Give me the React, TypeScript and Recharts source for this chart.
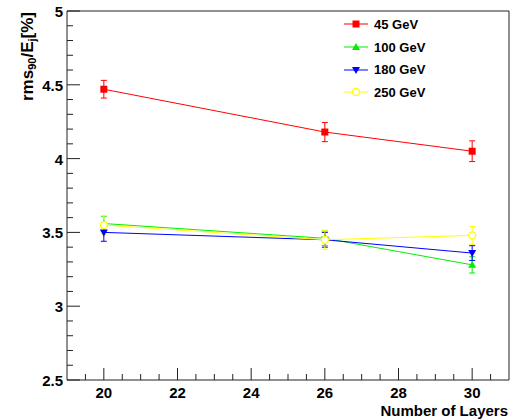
import React from 'react'
import { ComposedChart, Line, XAxis, YAxis, ErrorBar, ReferenceLine } from 'recharts'

// number of layers in the calorimeter
const layers = [20, 26, 30]

// jet energy resolution rms90/Ej [%] and its uncertainty, per jet energy
const res45 = [4.47, 4.18, 4.05]
const err45 = [0.06, 0.065, 0.07]
const res100 = [3.56, 3.46, 3.28]
const err100 = [0.05, 0.05, 0.055]
const res180 = [3.5, 3.45, 3.36]
const err180 = [0.06, 0.05, 0.05]
const res250 = [3.55, 3.45, 3.48]
const err250 = [0.065, 0.065, 0.06]

const xMajor = [20, 22, 24, 26, 28, 30]
const xMinor = [19.5, 20.5, 21, 21.5, 22.5, 23, 23.5, 24.5, 25, 25.5, 26.5, 27, 27.5, 28.5, 29, 29.5, 30.5]
const yMajor = [2.5, 3, 3.5, 4, 4.5, 5]
const yMinor = [
  2.6, 2.7, 2.8, 2.9, 3.1, 3.2, 3.3, 3.4, 3.6, 3.7, 3.8, 3.9, 4.1, 4.2, 4.3, 4.4, 4.6, 4.7, 4.8, 4.9,
]

const FONT = '"Liberation Sans", Arial, sans-serif'

const series = [
  { key: 'e45', name: '45 GeV', color: '#ff0000', shape: 'square', values: res45, errors: err45 },
  { key: 'e100', name: '100 GeV', color: '#00ee00', shape: 'triUp', values: res100, errors: err100 },
  { key: 'e180', name: '180 GeV', color: '#0000ff', shape: 'triDown', values: res180, errors: err180 },
  { key: 'e250', name: '250 GeV', color: '#ffff00', shape: 'circle', values: res250, errors: err250 },
]

const data = layers.map((n, i) => {
  const row: any = { layers: n }
  series.forEach((s) => {
    row[s.key] = s.values[i]
    row[s.key + 'Err'] = s.errors[i]
  })
  return row
})

function Marker({ shape, cx, cy, color }: { shape: string; cx: number; cy: number; color: string }) {
  if (shape === 'square') return <rect x={cx - 3.5} y={cy - 3.5} width={7} height={7} fill={color} />
  if (shape === 'triUp')
    return <polygon points={`${cx},${cy - 4} ${cx + 4},${cy + 3} ${cx - 4},${cy + 3}`} fill={color} />
  if (shape === 'triDown')
    return <polygon points={`${cx},${cy + 4} ${cx + 4},${cy - 3} ${cx - 4},${cy - 3}`} fill={color} />
  return <circle cx={cx} cy={cy} r={3.5} fill="#fff" stroke={color} strokeWidth={1.3} />
}

const XTick = (props: any) => {
  const { x, y, payload } = props
  const major = xMajor.includes(payload.value)
  return (
    <g>
      <line x1={x} x2={x} y1={y} y2={y - (major ? 12 : 6)} stroke="#222" />
      {major && (
        <text x={x} y={y + 18} textAnchor="middle" fontFamily={FONT} fontWeight="bold" fontSize={15} fill="#000">
          {payload.value}
        </text>
      )}
    </g>
  )
}

const YTick = (props: any) => {
  const { x, y, payload } = props
  const major = yMajor.includes(payload.value)
  return (
    <g>
      <line x1={x} x2={x + (major ? 13 : 6)} y1={y} y2={y} stroke="#222" />
      {major && (
        <text x={x - 4} y={y + 6} textAnchor="end" fontFamily={FONT} fontWeight="bold" fontSize={15} fill="#000">
          {payload.value}
        </text>
      )}
    </g>
  )
}

const YTitle = () => (
  <text
    transform="translate(33, 12) rotate(-90)"
    textAnchor="end"
    fontFamily={FONT}
    fontWeight="bold"
    fontSize={17}
    fill="#000"
  >
    rms
    <tspan fontSize={11} dy={3}>90</tspan>
    <tspan dy={-3}>/E</tspan>
    <tspan fontSize={11} dy={3}>j</tspan>
    <tspan dy={-3}>[%]</tspan>
  </text>
)

const XTitle = () => (
  <text x={508} y={416} textAnchor="end" fontFamily={FONT} fontWeight="bold" fontSize={15} fill="#000">
    Number of Layers
  </text>
)

function LegendBox() {
  return (
    <div style={{ position: 'absolute', left: 340, top: 13, fontFamily: FONT, fontWeight: 'bold', fontSize: 13 }}>
      {series.map((s) => (
        <div key={s.key} style={{ display: 'flex', alignItems: 'center', height: 22.7 }}>
          <svg width={34} height={14}>
            <line x1={4} x2={28} y1={7} y2={7} stroke={s.color} strokeWidth={1} />
            <Marker shape={s.shape} cx={16} cy={7} color={s.color} />
          </svg>
          <span>{s.name}</span>
        </div>
      ))}
    </div>
  )
}

export default function App() {
  return (
    <div style={{ position: 'absolute', left: 0, top: 0, width: 524, height: 420, background: '#fff' }}>
      <ComposedChart width={524} height={420} data={data} margin={{ top: 11, right: 15, left: 17, bottom: 10 }}>
        <XAxis
          dataKey="layers"
          type="number"
          domain={[19, 31]}
          ticks={[...xMajor, ...xMinor]}
          interval={0}
          height={30}
          tickSize={0}
          tickMargin={0}
          tickLine={false}
          tick={<XTick />}
          axisLine={{ stroke: '#222' }}
          label={<XTitle />}
        />
        <YAxis
          type="number"
          domain={[2.5, 5]}
          ticks={[...yMajor, ...yMinor]}
          interval={0}
          width={50}
          tickSize={0}
          tickMargin={0}
          tickLine={false}
          tick={<YTick />}
          axisLine={{ stroke: '#222' }}
          label={<YTitle />}
        />
        <ReferenceLine y={5} stroke="#222" />
        <ReferenceLine x={31} stroke="#222" />
        {series.map((s) => (
          <Line
            key={s.key}
            dataKey={s.key}
            type="linear"
            stroke={s.color}
            strokeWidth={1}
            isAnimationActive={false}
            dot={(p: any) => <Marker key={`${s.key}-${p.index}`} shape={s.shape} cx={p.cx} cy={p.cy} color={s.color} />}
            activeDot={false}
          >
            <ErrorBar dataKey={s.key + 'Err'} direction="y" width={3} stroke={s.color} strokeWidth={1} isAnimationActive={false} />
          </Line>
        ))}
      </ComposedChart>
      <LegendBox />
    </div>
  )
}
